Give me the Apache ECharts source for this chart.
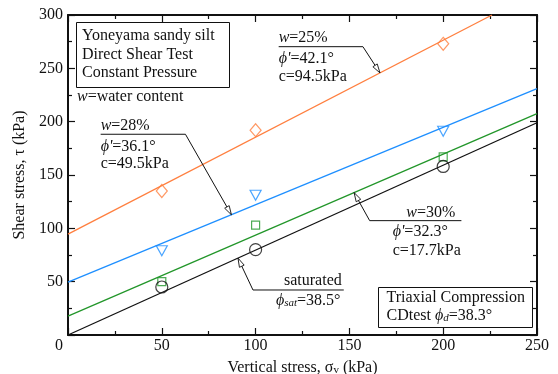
<!DOCTYPE html>
<html>
<head>
<meta charset="utf-8">
<script src="https://cdn.jsdelivr.net/npm/echarts@6/dist/echarts.min.js"></script>
<style>
  html, body { margin: 0; padding: 0; background: #fff; }
  #chart { width: 558px; height: 374px; }
</style>
</head>
<body>
<div id="chart"></div>
<script>
// Vertical stress levels of the direct shear tests (kPa)
const stressLevels = [50, 100, 200];
// Peak shear stress (kPa) for each water content
const w25Points = [135, 192, 273];
const w28Points = [79, 131, 191];
const w30Points = [50, 103, 167];
const satPoints = [45, 80, 158];
// Failure envelopes as [sigma, tau] end points (kPa)
const w25Line = [[0, 94.5], [226, 300]];
const w28Line = [[0, 49.5], [250, 231]];
const w30Line = [[0, 17.7], [250, 207.5]];
const satLine = [[0, 0], [250, 199]];
// Axis tick labels
const xTicks = [0, 50, 100, 150, 200, 250];
const yTicks = [0, 50, 100, 150, 200, 250, 300];

const FONT = '"Liberation Serif", "Times New Roman", serif';
const INK = '#111';
const C_ORANGE = '#ff7f3f';
const C_BLUE = '#1e8fff';
const C_GREEN = '#22962a';
const C_BLACK = '#111';

function pts(xs, ys) { return xs.map((x, i) => [x, ys[i]]); }

function axisBase(extra) {
  return Object.assign({
    type: 'value',
    axisLine: { show: true, onZero: false, lineStyle: { color: INK, width: 2 } },
    axisTick: { show: true, inside: true, length: 7, lineStyle: { color: INK, width: 1.2 } },
    minorTick: { show: true, splitNumber: 2, length: 4, lineStyle: { color: INK, width: 1.2 } },
    splitLine: { show: false },
    axisLabel: { color: INK, fontFamily: FONT, fontSize: 16 }
  }, extra);
}

const xMin = xTicks[0], xMax = xTicks[xTicks.length - 1], xStep = xTicks[1] - xTicks[0];
const yMin = yTicks[0], yMax = yTicks[yTicks.length - 1], yStep = yTicks[1] - yTicks[0];

function markerSeries(data, symbol, size, color, rotate) {
  return {
    type: 'scatter', data: data, symbol: symbol, symbolSize: size,
    symbolRotate: rotate || 0,
    itemStyle: { color: 'rgba(0,0,0,0)', borderColor: color, borderWidth: 1.2 },
    z: 5, silent: true
  };
}
function envelopeSeries(data, color) {
  return {
    type: 'line', data: data, showSymbol: false, symbol: 'none',
    lineStyle: { color: color, width: 1.3 }, z: 3, silent: true, animation: false
  };
}

const option = {
  animation: false,
  backgroundColor: '#fff',
  grid: { left: 68, right: 21, top: 15, bottom: 39, containLabel: false, outerBoundsMode: 'none' },
  xAxis: [
    axisBase({
      min: xMin, max: xMax, interval: xStep, position: 'bottom',
      name: 'Vertical stress, {g|σ}{sub|v} (kPa)', nameLocation: 'middle', nameGap: 19,
      nameTextStyle: {
        color: INK, fontFamily: FONT, fontSize: 16, verticalAlign: 'top',
        rich: { g: { fontFamily: FONT, fontSize: 16 }, sub: { fontFamily: FONT, fontSize: 11, lineHeight: 8, verticalAlign: 'bottom', padding: [6, 0, 0, 0] } }
      },
      axisLabel: {
        color: INK, fontFamily: FONT, fontSize: 16, margin: 3,
        alignMinLabel: 'right',
        // the shared origin label sits just left of the corner
        formatter: (v) => v === xMin ? '{o|' + v + '}' : String(v),
        rich: { o: { fontFamily: FONT, fontSize: 16, color: INK, padding: [0, 5, 0, 0] } }
      }
    }),
    axisBase({ min: xMin, max: xMax, interval: xStep, position: 'top', axisLabel: { show: false } })
  ],
  yAxis: [
    axisBase({
      min: yMin, max: yMax, interval: yStep, position: 'left',
      name: 'Shear stress, τ (kPa)', nameLocation: 'middle', nameGap: 39,
      nameTextStyle: { color: INK, fontFamily: FONT, fontSize: 16 },
      axisLabel: { color: INK, fontFamily: FONT, fontSize: 16, margin: 5, showMinLabel: false }
    }),
    axisBase({ min: yMin, max: yMax, interval: yStep, position: 'right', axisLabel: { show: false } })
  ],
  series: [
    envelopeSeries(w25Line, C_ORANGE),
    envelopeSeries(w28Line, C_BLUE),
    envelopeSeries(w30Line, C_GREEN),
    envelopeSeries(satLine, C_BLACK),
    markerSeries(pts(stressLevels, w25Points), 'diamond', [11, 13], C_ORANGE),
    markerSeries(pts(stressLevels, w28Points), 'triangle', [11, 10], C_BLUE, 180),
    markerSeries(pts(stressLevels, w30Points), 'rect', 8, C_GREEN),
    markerSeries(pts(stressLevels, satPoints), 'circle', 12, C_BLACK)
  ]
};

const chart = echarts.init(document.getElementById('chart'));
chart.setOption(option);

// ----- annotations: callouts with leader arrows and boxed notes -----
const toPx = (p) => chart.convertToPixel({ gridIndex: 0 }, p);
function onLine(line, x) {
  const a = line[0], b = line[1];
  return [x, a[1] + (b[1] - a[1]) * (x - a[0]) / (b[0] - a[0])];
}

const RICH = {
  i: { fontStyle: 'italic', fontFamily: FONT, fontSize: 16, fill: INK },
  sub: { fontStyle: 'italic', fontFamily: FONT, fontSize: 11, fill: INK, lineHeight: 8, verticalAlign: 'bottom', padding: [7, 0, 0, 0] }
};

function label(x, y, text, align) {
  return {
    type: 'text', x: x, y: y, z: 20, silent: true,
    style: {
      text: text, fill: INK, fontFamily: FONT, fontSize: 16,
      font: '16px ' + FONT,
      align: align || 'left', verticalAlign: 'middle',
      textAlign: align || 'left', textVerticalAlign: 'middle',
      rich: RICH
    }
  };
}
function seg(points) {
  return { type: 'polyline', z: 15, silent: true, shape: { points: points }, style: { stroke: INK, lineWidth: 1, fill: null } };
}
function arrowHead(from, tip) {
  const dx = tip[0] - from[0], dy = tip[1] - from[1];
  const d = Math.hypot(dx, dy), ux = dx / d, uy = dy / d;
  const len = 9, half = 2.6;
  const bx = tip[0] - ux * len, by = tip[1] - uy * len;
  return {
    type: 'polygon', z: 16, silent: true,
    shape: { points: [tip, [bx - uy * half, by + ux * half], [bx + uy * half, by - ux * half]] },
    style: { fill: '#fff', stroke: INK, lineWidth: 0.9 }
  };
}

const els = [];

// w = 25 %
(function () {
  const L = toPx([112.3, 270.3]), R = toPx([157.2, 270.3]);
  const tip = toPx(onLine(w25Line, 166.3));
  els.push(seg([L, R, tip]), arrowHead(R, tip));
  els.push(label(L[0], L[1] - 9, '{i|w}=25%'));
  els.push(label(L[0], L[1] + 12, '{i|ϕ\'}=42.1°'));
  els.push(label(L[0], L[1] + 30, 'c=94.5kPa'));
})();

// w = 28 %
(function () {
  const L = toPx([17.4, 188.2]), R = toPx([62.6, 188.2]);
  const tip = toPx(onLine(w28Line, 87.1));
  els.push(seg([L, R, tip]), arrowHead(R, tip));
  els.push(label(L[0], L[1] - 8, '{i|w}=28%'));
  els.push(label(L[0], L[1] + 13, '{i|ϕ\'}=36.1°'));
  els.push(label(L[0], L[1] + 30, 'c=49.5kPa'));
})();

// w = 30 %
(function () {
  const L = toPx([160.8, 107.2]), R = toPx([209.7, 107.2]);
  const tip = toPx(onLine(w30Line, 152.5));
  els.push(seg([R, L, tip]), arrowHead(L, tip));
  els.push(label(R[0] - 6, R[1] - 8, '{i|w}=30%', 'right'));
  els.push(label(L[0] + 23, L[1] + 11, '{i|ϕ\'}=32.3°'));
  els.push(label(L[0] + 23, L[1] + 30, 'c=17.7kPa'));
})();

// saturated
(function () {
  const L = toPx([98.6, 42.2]), R = toPx([147, 42.2]);
  const tip = toPx(onLine(satLine, 90.6));
  els.push(seg([R, L, tip]), arrowHead(L, tip));
  els.push(label(R[0] - 2, R[1] - 9, 'saturated', 'right'));
  els.push(label(L[0] + 23, L[1] + 11, '{i|ϕ}{sub|sat}=38.5°'));
})();

// boxed notes
function box(x0, y0, x1, y1) {
  return { type: 'rect', z: 12, silent: true, shape: { x: x0 + 0.5, y: y0 + 0.5, width: x1 - x0, height: y1 - y0 }, style: { fill: '#fff', stroke: INK, lineWidth: 1 } };
}
els.push(box(76, 22, 229, 87));
els.push(label(82, 36, 'Yoneyama sandy silt'));
els.push(label(82, 54.5, 'Direct Shear Test'));
els.push(label(82, 73, 'Constant Pressure'));
els.push(label(77, 97, '{i|w}=water content'));

els.push(box(378, 287, 532, 327));
els.push(label(386.5, 297.5, 'Triaxial Compression'));
els.push(label(386.5, 316, 'CDtest {i|ϕ}{sub|d}=38.3°'));

chart.setOption({ graphic: { elements: els } });
</script>
</body>
</html>
